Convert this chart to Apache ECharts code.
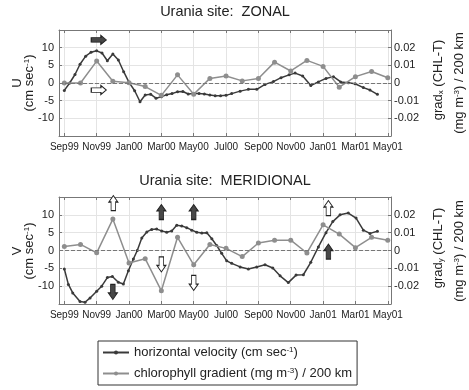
<!DOCTYPE html>
<html><head><meta charset="utf-8">
<script src="https://cdn.jsdelivr.net/npm/echarts@6/dist/echarts.min.js"></script>
<style>html,body{margin:0;padding:0;background:#fff}#c{width:469px;height:390px}</style>
</head><body><div id="c"></div>
<script>
// months since Sep 1999 (0 = Sep99)
const tickMonths = [0, 2, 4, 6, 8, 10, 12, 14, 16, 18, 20];
const tickLabels = ['Sep99','Nov99','Jan00','Mar00','May00','Jul00','Sep00','Nov00','Jan01','Mar01','May01'];
const gradMonths = [0,1,2,3,4,5,6,7,8,9,10,11,12,13,14,15,16,17,18,19,20];

const zonalVelMonths = [0,0.33,0.66,0.97,1.32,1.65,2.0,2.33,2.66,3.0,3.34,3.67,4.0,4.35,4.68,5.0,5.34,5.67,6.0,6.33,6.66,7.0,7.33,7.66,8.0,8.33,8.66,9.0,9.33,9.66,10.0,10.35,10.87,11.38,11.9,12.41,12.93,13.4,13.9,14.27,14.74,15.24,15.71,16.18,16.64,17.09,17.56,17.98,18.49,18.9,19.36];
const zonalVel = [-2.1,0.0,2.4,5.3,7.6,8.7,9.1,8.5,6.3,8.2,6.5,3.2,0.2,-2.2,-5.3,-3.4,-3.2,-4.3,-3.9,-3.3,-3.0,-2.5,-2.4,-3.1,-3.0,-3.0,-3.1,-3.4,-3.6,-3.6,-3.5,-3.0,-2.3,-1.8,-1.8,-0.4,0.4,1.5,2.3,2.8,2.0,-0.7,0.3,1.3,1.8,0.3,0.1,-0.2,-1.3,-2.0,-3.2];
const zonalGrad = [0.0,0.0,0.0124,0.001,0.0002,-0.002,-0.007,0.0046,-0.0064,0.0026,0.004,0.0012,0.0026,0.0118,0.0068,0.0128,0.0094,-0.0024,0.0036,0.0065,0.003];

const meridVelMonths = [0,0.25,0.52,0.97,1.28,1.59,2.0,2.31,2.66,2.97,3.34,3.65,3.96,4.27,4.51,4.79,5.1,5.4,5.71,6.02,6.33,6.64,6.95,7.26,7.57,7.88,8.19,8.5,8.81,9.12,9.42,9.73,10.04,10.35,10.87,11.38,11.9,12.41,12.89,13.34,13.85,14.33,14.78,15.24,15.71,16.18,16.6,17.05,17.56,18.04,18.49,18.9,19.36];
const meridVel = [-5.2,-9.5,-11.9,-14.3,-14.5,-13.3,-11.4,-10.0,-7.6,-7.3,-8.9,-9.4,-5.7,-2.4,0.0,3.5,5.2,5.9,6.0,5.5,5.1,5.5,7.1,6.9,6.4,5.7,5.1,4.9,5.0,3.3,1.4,-0.8,-2.9,-3.6,-4.6,-5.2,-4.6,-4.0,-4.9,-7.1,-9.0,-6.9,-6.8,-3.3,1.0,5.0,8.1,10.0,10.5,9.1,5.7,4.8,5.4];
const meridGrad = [0.0022,0.0034,-0.0013,0.0176,-0.007,-0.0046,-0.0226,0.0074,-0.008,0.0034,0.0012,-0.0034,0.0042,0.0058,0.0058,-0.0014,0.0144,0.0092,0.0016,0.0074,0.0058];

// annotation arrows: [month, value (cm/s), direction, filled]
const zonalArrows = [[2.13, 12.2, 'right', true], [2.13, -2.0, 'right', false]];
const meridArrows = [[3.03, 13.3, 'up', false], [3.0, -11.6, 'down', true], [6.0, 10.8, 'up', true], [8.0, 10.8, 'up', true], [6.0, -3.9, 'down', false], [8.0, -9.1, 'down', false], [16.33, 11.9, 'up', false], [16.33, -0.3, 'up', true]];

const FONT = '"Liberation Sans", Arial, Helvetica, sans-serif';
const DARK = '#3a3a3a', GRAY = '#8e8e8e', AXC = '#777';
const VNAME = 'horizontal velocity (cm sec-1)';
const GNAME = 'chlorophyll gradient (mg m-3) / 200 km';

const ARROW_PATH = {
  right: 'path://M0,2L9,2L9,0L14,4L9,8L9,6L0,6Z',
  up: 'path://M2,14L2,6L0,6L4,0L8,6L6,6L6,14Z',
  down: 'path://M2,0L2,8L0,8L4,14L8,8L6,8L6,0Z'
};
function arrowPoints(arr) {
  return arr.map(a => ({
    coord: [a[0], a[1]],
    symbol: ARROW_PATH[a[2]],
    symbolSize: a[2] === 'right' ? [15, 9] : [9, 15],
    itemStyle: { color: a[3] ? '#474747' : '#ffffff', borderColor: '#222', borderWidth: 1 }
  }));
}
function zip(xs, ys) { return xs.map((x, i) => [x, ys[i]]); }

function xAx(gridIndex, pos, main) {
  return {
    type: 'value', gridIndex, position: pos, min: -0.33, max: 20.2,
    axisLine: { show: true, onZero: false, lineStyle: { color: AXC, width: 1 } },
    axisTick: { show: true, inside: true, length: 3, customValues: tickMonths, lineStyle: { color: AXC } },
    axisLabel: { show: main, customValues: tickMonths, margin: 6, fontSize: 10, color: '#222', fontFamily: FONT,
      formatter: v => tickLabels[tickMonths.indexOf(v)] },
    splitLine: { show: main, lineStyle: { color: '#e4e4e4', width: 1 } }
  };
}
function yLeft(gridIndex) {
  return {
    type: 'value', gridIndex, position: 'left', min: -15, max: 15, interval: 5,
    axisLine: { show: true, onZero: false, lineStyle: { color: AXC } },
    axisTick: { show: true, inside: true, length: 3, lineStyle: { color: AXC } },
    axisLabel: { margin: 5, fontSize: 11, color: '#222', fontFamily: FONT,
      formatter: v => (Math.abs(v) > 12 ? '' : String(v)) },
    splitLine: { show: true, lineStyle: { color: '#e4e4e4', width: 1 } }
  };
}
function yRight(gridIndex) {
  return {
    type: 'value', gridIndex, position: 'right', min: -0.03, max: 0.03, interval: 0.01,
    axisLine: { show: true, onZero: false, lineStyle: { color: AXC } },
    axisTick: { show: true, inside: true, length: 3, lineStyle: { color: AXC } },
    axisLabel: { margin: 3, fontSize: 11, color: '#222', fontFamily: FONT,
      formatter: v => (Math.abs(v) > 0.025 ? '' : String(Math.round(v * 100) / 100)) },
    splitLine: { show: false }
  };
}
function velSeries(xi, yi, data, arrows) {
  return {
    name: VNAME, type: 'line', xAxisIndex: xi, yAxisIndex: yi, data,
    symbol: 'circle', symbolSize: 3, showSymbol: true,
    lineStyle: { color: DARK, width: 1.5 }, itemStyle: { color: DARK }, z: 3,
    markLine: { silent: true, symbol: ['none', 'none'], label: { show: false },
      lineStyle: { type: [4, 2], color: '#777', width: 1 }, data: [{ yAxis: 0 }] },
    markPoint: { silent: true, label: { show: false }, data: arrowPoints(arrows) }
  };
}
function gradSeries(xi, yi, data) {
  return {
    name: GNAME, type: 'line', xAxisIndex: xi, yAxisIndex: yi, data,
    symbol: 'circle', symbolSize: 5, showSymbol: true,
    lineStyle: { color: GRAY, width: 1.5 }, itemStyle: { color: GRAY }, z: 4
  };
}
function vText(x, y, text, size) {
  return {
    type: 'text', x, y, rotation: Math.PI / 2,
    style: { text, fill: '#222', fontSize: size, fontFamily: FONT, align: 'center', verticalAlign: 'middle',
      rich: { s: { fontSize: 8, verticalAlign: 'top', fontFamily: FONT, fill: '#222' },
              b: { fontSize: 8, verticalAlign: 'bottom', fontFamily: FONT, fill: '#222' } } }
  };
}

const chart = echarts.init(document.getElementById('c'), null, { renderer: 'canvas' });
chart.setOption({
  animation: false,
  backgroundColor: '#fff',
  title: [
    { text: 'Urania site:  ZONAL', left: 225, top: 4, textAlign: 'center', padding: 0,
      textStyle: { fontSize: 14.5, fontWeight: 'normal', color: '#222', fontFamily: FONT } },
    { text: 'Urania site:  MERIDIONAL', left: 225, top: 173, textAlign: 'center', padding: 0,
      textStyle: { fontSize: 14.5, fontWeight: 'normal', color: '#222', fontFamily: FONT } }
  ],
  grid: [
    { left: 59, top: 30, width: 332, height: 106 },
    { left: 59, top: 197, width: 332, height: 107 }
  ],
  xAxis: [xAx(0, 'bottom', true), xAx(0, 'top', false), xAx(1, 'bottom', true), xAx(1, 'top', false)],
  yAxis: [yLeft(0), yRight(0), yLeft(1), yRight(1)],
  legend: {
    left: 98, top: 341, orient: 'vertical', selectedMode: false,
    itemWidth: 26, itemHeight: 5, itemGap: 8, padding: [5, 5, 5, 4],
    borderColor: '#333', borderWidth: 1,
    data: [VNAME, GNAME],
    formatter: n => n === VNAME ? 'horizontal velocity (cm sec{s|-1})' : 'chlorophyll gradient (mg m{s|-3}) / 200 km',
    textStyle: { fontSize: 13, color: '#222', fontFamily: FONT,
      rich: { s: { fontSize: 8, verticalAlign: 'top', fontFamily: FONT, color: '#222' } } }
  },
  graphic: [
    vText(17, 83, 'U', 13), vText(29, 83, '(cm sec{s|-1})', 13),
    vText(438, 80, 'grad{b|x} (CHL-T)', 13), vText(459, 83, '(mg m{s|-3}) / 200 km', 13),
    vText(17, 251, 'V', 13), vText(29, 251, '(cm sec{s|-1})', 13),
    vText(438, 248, 'grad{b|y} (CHL-T)', 13), vText(459, 251, '(mg m{s|-3}) / 200 km', 13)
  ],
  series: [
    velSeries(0, 0, zip(zonalVelMonths, zonalVel), zonalArrows),
    gradSeries(0, 1, zip(gradMonths, zonalGrad)),
    velSeries(2, 2, zip(meridVelMonths, meridVel), meridArrows),
    gradSeries(2, 3, zip(gradMonths, meridGrad))
  ]
});
</script>
</body></html>
